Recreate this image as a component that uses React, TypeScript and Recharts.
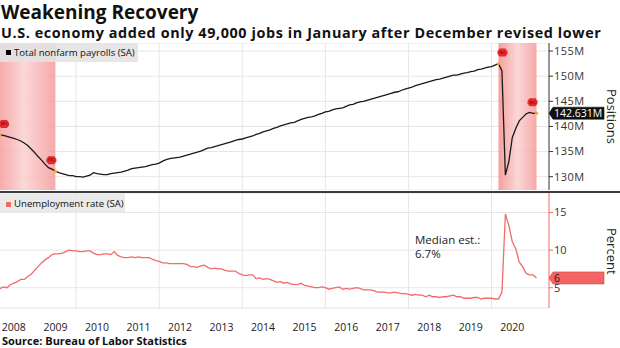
import React from 'react';
import {
  LineChart,
  Line,
  XAxis,
  YAxis,
  CartesianGrid,
  ReferenceArea,
  ReferenceLine,
  ReferenceDot,
} from 'recharts';

// ---------------- data ----------------
// Monthly values, Jan 2008 .. Jan 2021 (millions of jobs)
const payrolls: number[] = [
  // 2008
  138.4, 138.3, 138.2, 138.0, 137.8, 137.6, 137.4, 137.1, 136.7, 136.2, 135.5, 134.8,
  // 2009
  134.0, 133.3, 132.5, 131.8, 131.5, 131.1, 130.8, 130.6, 130.4, 130.2, 130.2, 130.0,
  // 2010
  130.0, 129.9, 130.1, 130.3, 130.8, 130.6, 130.5, 130.4, 130.4, 130.6, 130.7, 130.8,
  // 2011
  130.9, 131.1, 131.3, 131.6, 131.7, 131.8, 131.9, 132.0, 132.2, 132.4, 132.5, 132.7,
  // 2012
  133.1, 133.4, 133.6, 133.7, 133.8, 133.9, 134.1, 134.3, 134.5, 134.7, 134.9, 135.1,
  // 2013
  135.4, 135.7, 135.8, 136.0, 136.2, 136.4, 136.6, 136.8, 137.0, 137.2, 137.4, 137.5,
  // 2014
  137.7, 137.9, 138.1, 138.4, 138.6, 138.9, 139.1, 139.3, 139.6, 139.8, 140.1, 140.3,
  // 2015
  140.5, 140.7, 140.8, 141.1, 141.4, 141.6, 141.8, 141.9, 142.1, 142.4, 142.6, 142.9,
  // 2016
  143.0, 143.3, 143.5, 143.6, 143.7, 144.0, 144.3, 144.4, 144.7, 144.9, 145.0, 145.2,
  // 2017
  145.4, 145.6, 145.8, 146.0, 146.2, 146.4, 146.6, 146.8, 146.9, 147.2, 147.4, 147.6,
  // 2018
  147.8, 148.1, 148.3, 148.5, 148.7, 148.9, 149.1, 149.3, 149.4, 149.6, 149.8, 150.0,
  // 2019
  150.2, 150.2, 150.4, 150.6, 150.7, 150.9, 151.0, 151.3, 151.4, 151.6, 151.8, 151.9,
  // 2020
  152.2, 152.5, 151.1, 130.3, 133.0, 137.8, 139.6, 141.1, 141.8, 142.5, 142.8, 142.6,
  // 2021
  142.631,
];

// Unemployment rate (%), Jan 2008 .. Jan 2021
const unemployment: number[] = [
  5.0, 4.9, 5.1, 5.0, 5.4, 5.6, 5.8, 6.1, 6.1, 6.5, 6.8, 7.3,
  7.8, 8.3, 8.7, 9.0, 9.4, 9.5, 9.5, 9.6, 9.8, 10.0, 9.9, 9.9,
  9.8, 9.8, 9.9, 9.9, 9.6, 9.4, 9.4, 9.5, 9.5, 9.4, 9.8, 9.3,
  9.1, 9.0, 9.0, 9.1, 9.0, 9.1, 9.0, 9.0, 9.0, 8.8, 8.6, 8.5,
  8.3, 8.3, 8.2, 8.2, 8.2, 8.2, 8.2, 8.1, 7.8, 7.8, 7.7, 7.9,
  8.0, 7.7, 7.5, 7.6, 7.5, 7.5, 7.3, 7.2, 7.2, 7.2, 6.9, 6.7,
  6.6, 6.7, 6.7, 6.2, 6.3, 6.1, 6.2, 6.1, 5.9, 5.7, 5.8, 5.6,
  5.7, 5.5, 5.4, 5.4, 5.6, 5.3, 5.2, 5.1, 5.0, 5.0, 5.1, 5.0,
  4.8, 4.9, 5.0, 5.1, 4.8, 4.9, 4.8, 4.9, 5.0, 4.9, 4.7, 4.7,
  4.7, 4.6, 4.4, 4.4, 4.4, 4.3, 4.3, 4.4, 4.3, 4.2, 4.2, 4.1,
  4.0, 4.1, 4.0, 4.0, 3.8, 4.0, 3.8, 3.8, 3.7, 3.8, 3.8, 3.9,
  4.0, 3.8, 3.8, 3.6, 3.6, 3.6, 3.7, 3.7, 3.5, 3.6, 3.6, 3.6,
  3.5, 3.5, 4.4, 14.8, 13.3, 11.1, 10.2, 8.4, 7.8, 6.9, 6.7, 6.7,
  6.3,
];

const FIRST_YEAR = 2008;
const yearLabels: number[] = [2008, 2009, 2010, 2011, 2012, 2013, 2014, 2015, 2016, 2017, 2018, 2019, 2020];
const gridYears: number[] = [2010, 2012, 2014, 2016, 2018, 2020];
const payrollTicks: number[] = [130, 135, 140, 145, 150, 155];
const rateTicks: number[] = [5, 10, 15];

// recessions: [year, month] of start and end
const recessionStarts: [number, number][] = [[2007, 12], [2020, 2]];
const recessionEnds: [number, number][] = [[2009, 6], [2021, 1]];
// recession marker months on the payroll line (index into monthly data) and side
const recessionMarkIdx: number[] = [1, 17, 145, 156];
const recessionMarkKind: string[] = ['start', 'end', 'start', 'end'];

// ---------------- helpers ----------------
const F = "'Open Sans', 'Liberation Sans', sans-serif";
const X_DOMAIN: [number, number] = [2, 160.6];
const monthPos = (year: number, month: number) => (year - FIRST_YEAR) * 12 + month; // month-end position

const data = payrolls.map((p, i) => ({ m: i + 1, p, u: unemployment[i] }));

const RED_LINE = '#f26b6b';

const Tag = (dx: number) => (props: any) => {
  const { cx, cy } = props;
  if (cx == null || cy == null) return null;
  const x = cx + dx;
  const y = cy - 11;
  const w = 5;
  const h = 4;
  const pts = [
    [x - w + 2, y - h], [x + w - 2, y - h], [x + w, y - 1.2], [x + w, y + 1.2],
    [x + w - 2, y + h], [x - w + 2, y + h], [x - w, y + 1.2], [x - w, y - 1.2],
  ].map((q) => q.join(',')).join(' ');
  return (
    <g>
      <polygon points={pts} fill="#e5282c" />
      <text x={x} y={y + 1.3} fontSize={3.4} fill="#5a0000" textAnchor="middle" fontFamily={F}>REC</text>
    </g>
  );
};

const ValueBox = (text: string, fill: string, stroke: string, color: string, w: number) => (props: any) => {
  const { cx, cy } = props;
  if (cx == null || cy == null) return null;
  const pts = `${cx},${cy} ${cx + 4},${cy - 6} ${cx + 4 + w},${cy - 6} ${cx + 4 + w},${cy + 6} ${cx + 4},${cy + 6}`;
  return (
    <g>
      <polygon points={pts} fill={fill} stroke={stroke} strokeWidth={0.6} />
      <text x={cx + 5} y={cy + 3.7} fontSize={10.5} fill={color} fontFamily={F}>{text}</text>
    </g>
  );
};

const lastIdx = payrolls.length - 1;

export default function App() {
  return (
    <div
      style={{
        position: 'absolute',
        left: 0,
        top: 0,
        width: 620,
        height: 348,
        overflow: 'hidden',
        background: '#fff',
        fontFamily: F,
        color: '#111',
      }}
    >
      {/* Title */}
      <div style={{ position: 'absolute', left: 1, top: 1, fontSize: 19, fontWeight: 700, lineHeight: '22px', whiteSpace: 'nowrap' }}>
        Weakening Recovery
      </div>
      <div style={{ position: 'absolute', left: 1, top: 24, fontSize: 14.4, fontWeight: 700, letterSpacing: 0.6, lineHeight: '18px', whiteSpace: 'nowrap' }}>
        U.S. economy added only 49,000 jobs in January after December revised lower
      </div>

      {/* Top panel */}
      <div style={{ position: 'absolute', left: 0, top: 43 }}>
        <LineChart width={620} height={147} data={data} margin={{ top: 0, right: 0, bottom: 0, left: 0 }}>
          <defs>
            <linearGradient id="recGrad" x1="0" y1="0" x2="1" y2="0">
              <stop offset="0%" stopColor="#f48f8f" />
              <stop offset="50%" stopColor="#fbd0d0" />
              <stop offset="100%" stopColor="#f59a9a" />
            </linearGradient>
          </defs>
          <XAxis type="number" dataKey="m" domain={X_DOMAIN} hide allowDataOverflow />
          <YAxis
            orientation="right"
            width={71}
            domain={[127.35, 156.6]}
            ticks={payrollTicks}
            allowDataOverflow
            tickFormatter={(v: number) => `${v}M`}
            axisLine={{ stroke: '#333', strokeWidth: 1 }}
            tickLine={{ stroke: '#333' }}
            tickSize={4}
            tickMargin={1}
            tick={{ fontSize: 11, fill: '#333', fontFamily: F, letterSpacing: 0.5 }}
          />
          <CartesianGrid vertical={false} stroke="#e6e6e6" />
          {gridYears.map((y) => (
            <ReferenceLine key={y} x={monthPos(y - 1, 12)} stroke="#e6e6e6" />
          ))}
          {recessionStarts.map((s, i) => (
            <ReferenceArea
              key={i}
              x1={monthPos(s[0], s[1])}
              x2={monthPos(recessionEnds[i][0], recessionEnds[i][1])}
              fill="url(#recGrad)"
              fillOpacity={0.85}
              ifOverflow="hidden"
            />
          ))}
          <Line type="linear" dataKey="p" stroke="#1a1a1a" strokeWidth={1.3} dot={false} isAnimationActive={false} />
          {recessionMarkIdx.map((k, i) => (
            <ReferenceDot key={`d${i}`} x={k + 1} y={payrolls[k]} r={1.6} fill="#f5a623" stroke="none" ifOverflow="visible" />
          ))}
          {recessionMarkIdx.map((k, i) => (
            <ReferenceDot
              key={`t${i}`}
              x={k + 1}
              y={payrolls[k]}
              ifOverflow="visible"
              shape={Tag(recessionMarkKind[i] === 'start' ? 4 : -4)}
            />
          ))}
          <ReferenceDot
            x={X_DOMAIN[1]}
            y={payrolls[lastIdx]}
            ifOverflow="visible"
            shape={ValueBox(`${payrolls[lastIdx].toFixed(3)}M`, '#111', '#111', '#fff', 51)}
          />
        </LineChart>
      </div>

      {/* Bottom panel */}
      <div style={{ position: 'absolute', left: 0, top: 193 }}>
        <LineChart width={620} height={155} data={data} margin={{ top: 0, right: 0, bottom: 0, left: 0 }}>
          <XAxis
            type="number"
            dataKey="m"
            domain={X_DOMAIN}
            allowDataOverflow
            ticks={yearLabels.map((y) => monthPos(y, 6))}
            tickFormatter={(v: number) => `${FIRST_YEAR + Math.floor(v / 12)}`}
            height={40}
            axisLine={false}
            tickLine={false}
            tickSize={6}
            tickMargin={9.5}
            tick={{ fontSize: 10.5, fill: '#222', fontFamily: F }}
          />
          <YAxis
            orientation="right"
            width={71}
            domain={[2.3, 17.6]}
            ticks={rateTicks}
            allowDataOverflow
            axisLine={{ stroke: RED_LINE, strokeWidth: 1 }}
            tickLine={{ stroke: RED_LINE }}
            tickSize={4}
            tickMargin={1}
            tick={{ fontSize: 11, fill: '#333', fontFamily: F }}
          />
          <CartesianGrid vertical={false} stroke="#e6e6e6" />
          {gridYears.map((y) => (
            <ReferenceLine key={y} x={monthPos(y - 1, 12)} stroke="#e6e6e6" />
          ))}
          <Line type="linear" dataKey="u" stroke={RED_LINE} strokeWidth={1.3} dot={false} isAnimationActive={false} />
          <ReferenceDot
            x={X_DOMAIN[1]}
            y={unemployment[lastIdx]}
            ifOverflow="visible"
            shape={ValueBox(`${Math.round(unemployment[lastIdx])}`, '#f56464', '#c94545', '#222', 51)}
          />
        </LineChart>
      </div>

      {/* separator */}
      <div style={{ position: 'absolute', left: 0, top: 190.5, width: 620, height: 2.5, background: '#3a3a3a' }} />

      {/* legends */}
      <div style={{ position: 'absolute', left: 0, top: 43, width: 138, height: 19, background: 'rgba(226,226,226,0.88)' }}>
        <div style={{ position: 'absolute', left: 6, top: 7, width: 5, height: 5, background: '#000' }} />
        <div style={{ position: 'absolute', left: 14, top: 0, fontSize: 9.6, lineHeight: '19px', whiteSpace: 'nowrap', color: '#111' }}>
          Total nonfarm payrolls (SA)
        </div>
      </div>
      <div style={{ position: 'absolute', left: 0, top: 194, width: 125, height: 19, background: 'rgba(232,232,232,0.9)' }}>
        <div style={{ position: 'absolute', left: 6, top: 8, width: 5, height: 5, background: RED_LINE }} />
        <div style={{ position: 'absolute', left: 14, top: 0, fontSize: 9.6, lineHeight: '19px', whiteSpace: 'nowrap', color: '#111' }}>
          Unemployment rate (SA)
        </div>
      </div>

      {/* axis titles */}
      <div style={{ position: 'absolute', left: 604, top: 89, writingMode: 'vertical-rl', fontSize: 13, lineHeight: '16px', color: '#222', whiteSpace: 'nowrap' }}>
        Positions
      </div>
      <div style={{ position: 'absolute', left: 604, top: 228, writingMode: 'vertical-rl', fontSize: 13, lineHeight: '16px', color: '#222', whiteSpace: 'nowrap' }}>
        Percent
      </div>

      {/* annotation */}
      <div style={{ position: 'absolute', left: 415, top: 233, fontSize: 11.5, lineHeight: '14px', color: '#222', whiteSpace: 'nowrap' }}>
        <div>Median est.:</div>
        <div>6.7%</div>
      </div>

      {/* source */}
      <div style={{ position: 'absolute', left: 2, top: 335, fontSize: 11, fontWeight: 700, lineHeight: '12px', whiteSpace: 'nowrap', color: '#111' }}>
        Source: Bureau of Labor Statistics
      </div>
    </div>
  );
}
